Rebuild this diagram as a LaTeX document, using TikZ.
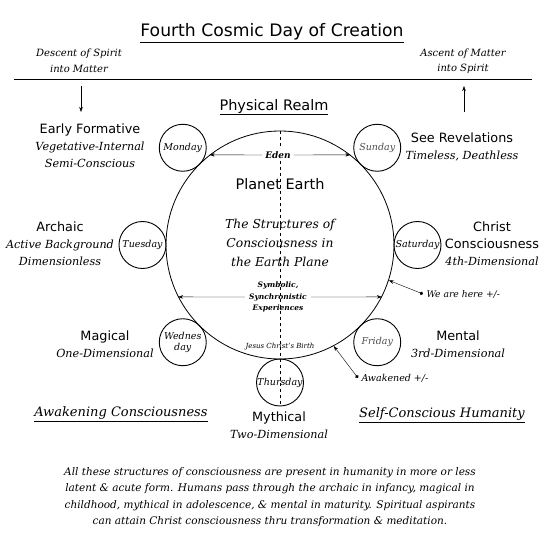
\documentclass[tikz,border=0pt]{standalone}
\usepackage{fontspec}
\setmainfont{DejaVu Serif}
\setsansfont{DejaVu Sans}
\usetikzlibrary{calc,arrows.meta}

\newcommand{\grphd}[1]{{\sffamily\fontsize{12.8}{17}\selectfont #1}}
\newcommand{\grpsub}[1]{{\itshape\fontsize{11.2}{17}\selectfont #1}}

\begin{document}
\begin{tikzpicture}[x=1pt,y=-1pt,>={Stealth[length=5pt,width=3.5pt]},
		ttl/.style={font=\sffamily\fontsize{17.2}{19}\selectfont},
		itl/.style={font=\itshape\fontsize{10.5}{16.5}\selectfont,align=center},
		day/.style={circle,draw,line width=0.9pt,minimum size=47pt,inner sep=0pt,
			font=\itshape\fontsize{9.5}{11}\selectfont,align=center},
		grp/.style={align=center,font=\fontsize{11}{17}\selectfont}]
	\useasboundingbox (0,0) rectangle (550,543);
	\newcommand{\R}{137.5} %中心間距離
	\node[ttl] (title) at (272,33) {\underline{Fourth Cosmic Day of Creation}}; %タイトル
	\node[itl,font=\itshape\fontsize{10}{15.5}\selectfont] (descent) at (79,61) {Descent of Spirit\\into Matter};
	\node[itl,font=\itshape\fontsize{10}{15.5}\selectfont] (ascent) at (463,61) {Ascent of Matter\\into Spirit};
	\coordinate (lineL) at (14,79);
	\coordinate (lineR) at (532,79);
	\draw[line width=0.8pt] (lineL) -- (lineR); %区切り線
	\coordinate (downA) at (81,86);
	\coordinate (downB) at (81,112);
	\coordinate (upA) at (464,112);
	\coordinate (upB) at (464,86);
	\draw[->] (downA) -- (downB);
	\draw[->] (upA) -- (upB);
	\node[ttl,font=\sffamily\fontsize{14.5}{16}\selectfont] (realm) at (274,107) {\underline{Physical Realm}};
	\node[draw,circle,minimum size=228pt,inner sep=0pt,line width=0.8pt] (earth) at (280,245) {}; %地球
	\foreach \nm/\ang/\txt in {mon/135/Monday,tue/180/Tuesday,wed/225/{Wednes\\day},thu/270/Thursday,
		fri/315/\textcolor{black!70}{Friday},sat/0/Saturday,sun/45/\textcolor{black!70}{Sunday}}{ %曜日
		\node[day] (\nm) at ($(earth.center)+(-\ang:\R)$) {\txt};
	}
	\draw[dashed,line width=0.8pt] (earth.north) -- (thu.south); %中心線
	\node[font=\bfseries\itshape\fontsize{9}{11}\selectfont,fill=white,inner sep=3pt] (eden) at (278,155) {Eden};
	\draw[->] (eden.west) -- (earth.128);
	\draw[->] (eden.east) -- (earth.52);
	\node[font=\sffamily\fontsize{14.5}{18}\selectfont] (planet) at (280,184) {Planet Earth};
	\node[itl,font=\itshape\fontsize{12.3}{19}\selectfont] (struct) at (280,243) {The Structures of\\Consciousness in\\the Earth Plane};
	\node[font=\bfseries\itshape\fontsize{7.5}{11.5}\selectfont,align=center,inner sep=4pt] (sym) at (278,297) {Symbolic,\\Synchronistic\\Experiences};
	\draw[->] (sym.west) -- (earth.207);
	\draw[->] (sym.east) -- (earth.333);
	\node[font=\itshape\fontsize{7}{9}\selectfont] (birth) at (280,347) {Jesus Christ’s Birth};
	%説明
	\node[grp] (early) at (90,146) {\grphd{Early Formative}\\\grpsub{Vegetative-Internal}\\\grpsub{Semi-Conscious}};
	\node[grp] (archaic) at (60,244) {\grphd{Archaic}\\\grpsub{Active Background}\\\grpsub{Dimensionless}};
	\node[grp] (magical) at (105,344) {\grphd{Magical}\\\grpsub{One-Dimensional}};
	\node[grp] (mythical) at (279,425) {\grphd{Mythical}\\\grpsub{Two-Dimensional}};
	\node[grp] (mental) at (458,344) {\grphd{Mental}\\\grpsub{3rd-Dimensional}};
	\node[grp] (christ) at (492,244) {\grphd{Christ}\\\grphd{Consciousness}\\\grpsub{4th-Dimensional}};
	\node[grp] (revel) at (462,147) {\grphd{See Revelations}\\\grpsub{Timeless, Deathless}};
	\node[itl,font=\itshape\fontsize{9.2}{11}\selectfont,anchor=west] (here) at (423,294) {We are here +/-};
	\draw[{Circle[length=3.5pt]}->] (here.west) -- (earth.-18);
	\node[itl,font=\itshape\fontsize{9.5}{11}\selectfont,anchor=west] (awake) at (358,378) {Awakened +/-};
	\draw[{Circle[length=3.5pt]}->] (awake.west) -- (earth.-62);
	\node[itl,font=\itshape\fontsize{13}{16}\selectfont] (awaken) at (121,414) {\underline{Awakening Consciousness}};
	\node[itl,font=\itshape\fontsize{13}{16}\selectfont] (selfc) at (442,415) {\underline{Self-Conscious Humanity}};
	\node[itl,font=\itshape\fontsize{10.5}{16.3}\selectfont] (note) at (270,497) {All these structures of consciousness are present in humanity in more or less\\latent \& acute form. Humans pass through the archaic in infancy, magical in\\childhood, mythical in adolescence, \& mental in maturity. Spiritual aspirants\\can attain Christ consciousness thru transformation \& meditation.};
\end{tikzpicture}
\end{document}
